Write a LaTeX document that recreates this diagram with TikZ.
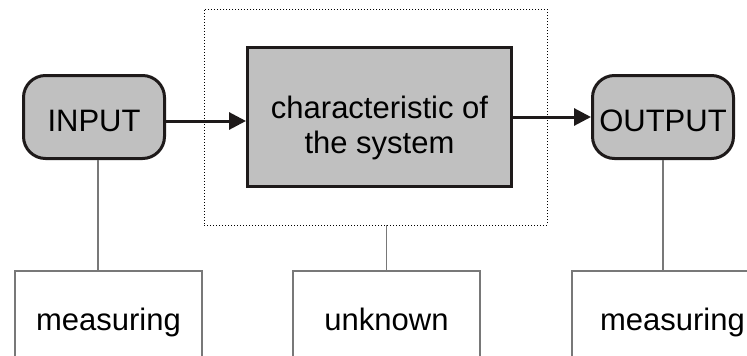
\documentclass[tikz,border=0pt]{standalone}
\usepackage{fontspec}
\setmainfont{Liberation Sans}
\usetikzlibrary{arrows.meta}
\definecolor{boxgray}{RGB}{192,192,192}
\definecolor{edgeblack}{RGB}{30,26,26}
\definecolor{linkgray}{RGB}{120,120,120}
\begin{document}
\begin{tikzpicture}[x=1pt,y=-1pt,
  every node/.style={font=\fontsize{31}{35}\selectfont, inner sep=2pt},
  term/.style={draw=edgeblack, line width=3pt, fill=boxgray, rounded corners=22pt,
    minimum width=141pt, minimum height=83pt, text height=28pt, text depth=0pt},
  sysbox/.style={draw=edgeblack, line width=3pt, fill=boxgray, minimum width=264pt,
    minimum height=139pt, text height=42pt, text depth=40pt},
  sysframe/.style={draw=black, line width=0.9pt, dash pattern=on 0.9pt off 2.1pt,
    minimum width=343pt, minimum height=216pt},
  infobox/.style={draw=linkgray, line width=1.2pt, fill=white, minimum width=187pt,
    minimum height=102pt, text height=22pt, text depth=6pt},
  link/.style={draw=linkgray, line width=1.2pt},
  flow/.style={draw=edgeblack, line width=3pt, -{Triangle[length=17pt,width=17pt]}}
]
\clip (0,0) rectangle (747,356);
\fill[white] (0,0) rectangle (747,356);

% system boundary
\node[sysframe] (frame) at (375.5,117) {};

% signal chain
\node[term] (in) at (94,117) {INPUT};
\node[sysbox] (sys) at (379.5,117)
  {\begin{tabular}[t]{@{}c@{}}characteristic of\\the system\end{tabular}};
\node[term] (out) at (663,117) {OUTPUT};

\draw[flow] ([yshift=-4pt]in.east) -- ([yshift=-4pt]in.east -| sys.west);
\draw[flow] (sys.east) -- (out.west);

% annotations below
\node[infobox] (m1) at (108.5,322) {measuring};
\node[infobox] (unk) at (386.5,322) {unknown};
\node[infobox, minimum width=201pt] (m2) at (672.5,322) {measuring};

\draw[link] ([xshift=4pt]in.south) -- ([xshift=4pt]in.south |- m1.north);
\draw[link] (unk.north) -- (unk.north |- frame.south);
\draw[link] (out.south) -- (out.south |- m2.north);
\end{tikzpicture}
\end{document}
